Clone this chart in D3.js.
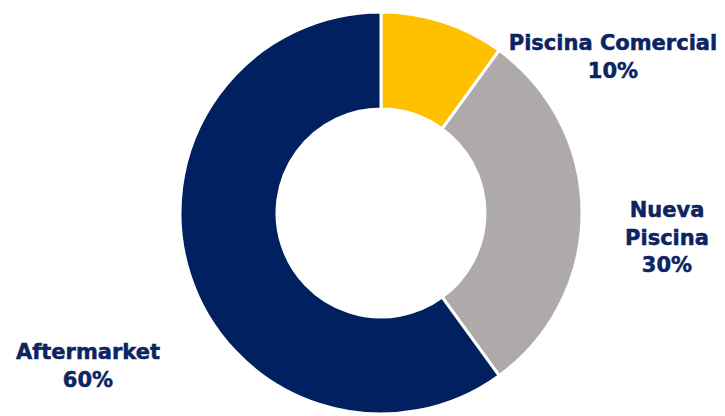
<!DOCTYPE html>
<html><head><meta charset="utf-8">
<script src="https://cdn.jsdelivr.net/npm/d3@7"></script>
<style>body{margin:0;background:#fff}svg{display:block}</style>
</head><body>
<svg id="c" width="725" height="416"></svg>
<script>
const categories = ["Piscina Comercial", "Nueva Piscina", "Aftermarket"];
const values = [10, 30, 60];
const labelLines = [["Piscina Comercial", "10%"], ["Nueva", "Piscina", "30%"], ["Aftermarket", "60%"]];
const colors = ["#FFC000", "#AEAAAA", "#002060"];

const svg = d3.select("#c");
const cx = 381, cy = 213, R = 201, r = 104;
const pie = d3.pie().sort(null).value(d => d)(values);
const arc = d3.arc().innerRadius(r).outerRadius(R);
const g = svg.append("g").attr("transform", `translate(${cx},${cy})`);
g.selectAll("path").data(pie).join("path")
  .attr("d", arc)
  .attr("fill", (d, i) => colors[i])
  .attr("stroke", "#fff").attr("stroke-width", 3);

const labelPos = [[613, 50], [667, 217], [88, 359]];
const fs = 21, lh = 27.5;
labelLines.forEach((lines, i) => {
  const t = svg.append("text")
    .attr("text-anchor", "middle")
    .attr("font-family", "DejaVu Sans, Verdana, sans-serif")
    .attr("font-weight", "bold")
    .attr("font-size", fs)
    .attr("fill", "#0C2461")
    .attr("stroke", "#0C2461").attr("stroke-width", 0.5);
  lines.forEach((l, j) => {
    t.append("tspan").attr("x", labelPos[i][0]).attr("y", labelPos[i][1] + j * lh).text(l);
  });
});
</script>
</body></html>
